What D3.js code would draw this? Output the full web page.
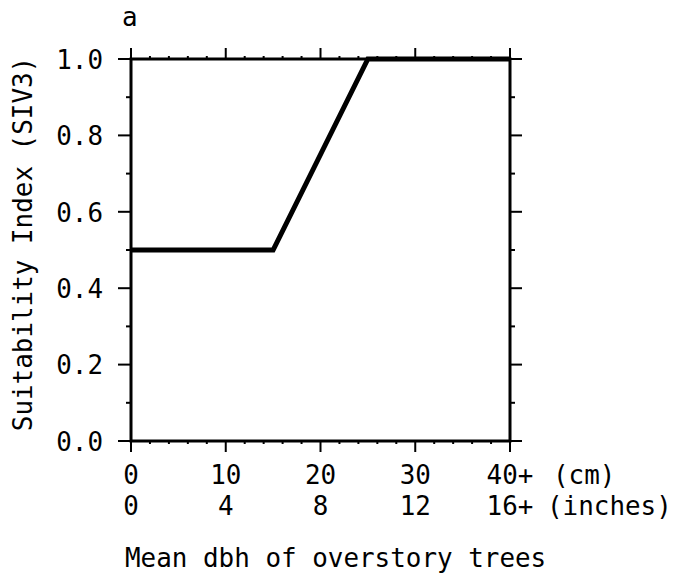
<!DOCTYPE html>
<html>
<head>
<meta charset="utf-8">
<script src="https://cdn.jsdelivr.net/npm/d3@7"></script>
<style>
  body { margin: 0; background: #fff; }
  text { font-family: "DejaVu Sans Mono", "Liberation Mono", monospace; fill: #000; font-size: 27px; }
</style>
</head>
<body>
<svg width="677" height="577"></svg>
<script>
// curve: mean dbh (cm) vs suitability index
let dbh_cm = [0, 15, 25, 40];
let siv = [0.5, 0.5, 1.0, 1.0];
let cm_ticks = [0, 10, 20, 30, 40];
let cm_labels = ["0", "10", "20", "30", "40+"];
let inch_labels = ["0", "4", "8", "12", "16+"];
let y_ticks = [0, 0.2, 0.4, 0.6, 0.8, 1.0];

let plot_left = 131, plot_right = 510, plot_top = 59, plot_bottom = 441;
let char_w = 15.6; // the typewriter face is narrow, squeeze glyphs to this pitch

let svg = d3.select('svg');

let x = d3.scaleLinear().domain([0, 40]).range([plot_left, plot_right]);
let y = d3.scaleLinear().domain([0, 1]).range([plot_bottom, plot_top]);

let minor_x = d3.range(0, 41, 2);
let minor_y = d3.range(0, 11).map(function (d) { return d / 10; });

function squeeze(sel) {
    sel.attr('textLength', function () { return this.textContent.length * char_w; })
        .attr('lengthAdjust', 'spacingAndGlyphs');
}

// frame
svg.append('rect')
    .attr('x', plot_left).attr('y', plot_top)
    .attr('width', plot_right - plot_left).attr('height', plot_bottom - plot_top)
    .attr('fill', 'none').attr('stroke', '#000').attr('stroke-width', 3);

// bottom ticks
svg.append('g').selectAll('line')
    .data(minor_x)
    .join('line')
    .attr('x1', function (d) { return x(d); })
    .attr('x2', function (d) { return x(d); })
    .attr('y1', plot_bottom)
    .attr('y2', function (d) { return plot_bottom + (d % 10 === 0 ? 11 : 3); })
    .attr('stroke', '#000').attr('stroke-width', 2);

// top ticks
svg.append('g').selectAll('line')
    .data(minor_x)
    .join('line')
    .attr('x1', function (d) { return x(d); })
    .attr('x2', function (d) { return x(d); })
    .attr('y1', plot_top)
    .attr('y2', function (d) { return plot_top - (d % 10 === 0 ? 11 : 3); })
    .attr('stroke', '#000').attr('stroke-width', 2);

// left ticks
svg.append('g').selectAll('line')
    .data(minor_y)
    .join('line')
    .attr('x1', plot_left)
    .attr('x2', function (d, i) { return i % 2 === 0 ? plot_left - 13 : plot_left - 5; })
    .attr('y1', function (d) { return y(d); })
    .attr('y2', function (d) { return y(d); })
    .attr('stroke', '#000').attr('stroke-width', 2);

// right ticks
svg.append('g').selectAll('line')
    .data(minor_y)
    .join('line')
    .attr('x1', plot_right)
    .attr('x2', function (d, i) { return i % 2 === 0 ? plot_right + 12 : plot_right + 5; })
    .attr('y1', function (d) { return y(d); })
    .attr('y2', function (d) { return y(d); })
    .attr('stroke', '#000').attr('stroke-width', 2);

// y tick labels
svg.append('g').selectAll('text')
    .data(y_ticks)
    .join('text')
    .attr('x', 103)
    .attr('y', function (d) { return y(d); })
    .attr('dy', '0.36em')
    .attr('text-anchor', 'end')
    .text(function (d) { return d.toFixed(1); })
    .call(squeeze);

// x tick labels, cm and inches rows
svg.append('g').selectAll('text')
    .data(cm_ticks)
    .join('text')
    .attr('x', function (d) { return x(d); })
    .attr('y', 484)
    .attr('text-anchor', 'middle')
    .text(function (d, i) { return cm_labels[i]; })
    .call(squeeze);

svg.append('g').selectAll('text')
    .data(cm_ticks)
    .join('text')
    .attr('x', function (d) { return x(d); })
    .attr('y', 515)
    .attr('text-anchor', 'middle')
    .text(function (d, i) { return inch_labels[i]; })
    .call(squeeze);

svg.append('text').attr('x', 553).attr('y', 484).text('(cm)').call(squeeze);
svg.append('text').attr('x', 547).attr('y', 515).text('(inches)').call(squeeze);

// axis titles
svg.append('text').attr('x', 125).attr('y', 567).text('Mean dbh of overstory trees').call(squeeze);
svg.append('text')
    .attr('transform', 'translate(32,244) rotate(-90)')
    .attr('text-anchor', 'middle')
    .text('Suitability Index (SIV3)')
    .call(squeeze);
svg.append('text').attr('x', 122).attr('y', 26).text('a').call(squeeze);

// curve
svg.append('path')
    .datum(dbh_cm.map(function (d, i) { return [d, siv[i]]; }))
    .attr('d', d3.line().x(function (d) { return x(d[0]); }).y(function (d) { return y(d[1]); }))
    .attr('fill', 'none')
    .attr('stroke', '#000')
    .attr('stroke-width', 5)
    .attr('stroke-linejoin', 'miter');
</script>
</body>
</html>
